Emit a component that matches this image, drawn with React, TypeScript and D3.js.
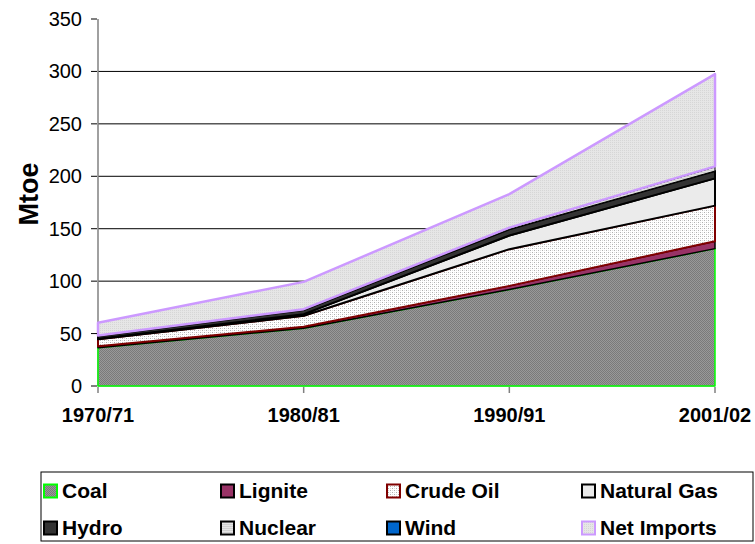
import React from "react";
import * as d3 from "d3";

const categories = ["1970/71", "1980/81", "1990/91", "2001/02"];
const seriesNames = ["Coal", "Lignite", "Crude Oil", "Natural Gas", "Hydro", "Nuclear", "Wind", "Net Imports"];
const coal = [36.5, 55, 92, 131];
const lignite = [1.5, 1.5, 3.5, 7];
const crudeOil = [6.5, 10.5, 35, 34];
const naturalGas = [0.5, 1.5, 13, 26];
const hydro = [2.5, 4, 6, 7];
const nuclear = [0.6, 0.8, 1.5, 4];
const wind = [0, 0, 0, 0.5];
const netImports = [12.3, 26, 32, 88];
const yTicks = [0, 50, 100, 150, 200, 250, 300, 350];

const seriesValues = [coal, lignite, crudeOil, naturalGas, hydro, nuclear, wind, netImports];

const styles = [
  { fill: "url(#pCoal)", stroke: "#00ff00", sw: 1.5 },
  { fill: "#993366", stroke: "#000000", sw: 1.5 },
  { fill: "url(#pCrude)", stroke: "#800000", sw: 2 },
  { fill: "#ebebeb", stroke: "#000000", sw: 2 },
  { fill: "#333333", stroke: "#000000", sw: 2 },
  { fill: "url(#pNuclear)", stroke: "#000000", sw: 1 },
  { fill: "#0066cc", stroke: "#000000", sw: 1 },
  { fill: "url(#pImports)", stroke: "#cc99ff", sw: 2.5 },
];

export default function App() {
  const W = 755, H = 544;
  const x = d3.scalePoint<string>().domain(categories).range([98, 715]);
  const y = d3.scaleLinear().domain([0, 350]).range([386, 19]);

  const table = categories.map((c, i) => {
    const row: any = { cat: c };
    seriesNames.forEach((s, k) => (row[s] = seriesValues[k][i]));
    return row;
  });
  const stacked = d3.stack<any>().keys(seriesNames)(table);
  const area = d3
    .area<any>()
    .x((d) => x(d.data.cat) as number)
    .y0((d) => y(d[0]))
    .y1((d) => y(d[1]));

  const font = "Arial, 'Liberation Sans', sans-serif";
  const legendCols = [44, 221, 387, 582];
  const legendRows = [491, 528];

  return (
    <svg width={W} height={H} style={{ position: "absolute", left: 0, top: 0, background: "#fff" }}>
      <defs>
        <pattern id="pCoal" width="2" height="2" patternUnits="userSpaceOnUse">
          <rect width="2" height="2" fill="#999999" />
          <rect width="1" height="1" fill="#7a7a7a" />
          <rect x="1" y="1" width="1" height="1" fill="#7a7a7a" />
        </pattern>
        <pattern id="pCrude" width="4" height="4" patternUnits="userSpaceOnUse">
          <rect width="4" height="4" fill="#ffffff" />
          <rect width="1" height="1" fill="#b0b0b0" />
          <rect x="2" y="2" width="1" height="1" fill="#b0b0b0" />
          <rect x="2" y="0" width="1" height="1" fill="#dddddd" />
          <rect x="0" y="2" width="1" height="1" fill="#dddddd" />
        </pattern>
        <pattern id="pNuclear" width="2" height="2" patternUnits="userSpaceOnUse">
          <rect width="2" height="2" fill="#e4e4e4" />
          <rect width="2" height="1" fill="#cfcfcf" />
        </pattern>
        <pattern id="pImports" width="2" height="2" patternUnits="userSpaceOnUse">
          <rect width="2" height="2" fill="#e6e6e6" />
          <rect width="1" height="1" fill="#d6d6d6" />
        </pattern>
      </defs>

      {/* gridlines */}
      {yTicks.filter((t) => t > 0 && t < 350).map((t) => (
        <line key={"g" + t} x1={98} x2={715} y1={y(t)} y2={y(t)} stroke="#000" strokeWidth={1} />
      ))}

      {/* axis lines (under the areas) */}
      <line x1={98} x2={98} y1={y(350)} y2={y(0)} stroke="#808080" strokeWidth={1.5} />
      <line x1={98} x2={715} y1={y(0)} y2={y(0)} stroke="#808080" strokeWidth={1} />

      {/* areas */}
      {stacked.map((s, k) => (
        <path
          key={s.key}
          d={area(s) as string}
          fill={styles[k].fill}
          stroke={styles[k].stroke}
          strokeWidth={styles[k].sw}
          strokeLinejoin="round"
        />
      ))}

      {/* y ticks */}
      {yTicks.map((t) => (
        <g key={"t" + t}>
          <line x1={91} x2={97} y1={y(t)} y2={y(t)} stroke="#000" strokeWidth={1} />
          <text x={82} y={y(t)} dy="0.35em" textAnchor="end" fontFamily={font} fontSize={20} fill="#000">
            {t}
          </text>
        </g>
      ))}
      {/* x ticks */}
      {categories.map((c) => (
        <g key={"x" + c}>
          <line x1={x(c) as number} x2={x(c) as number} y1={y(0) + 1} y2={y(0) + 7} stroke="#808080" strokeWidth={1.5} />
          <text x={x(c) as number} y={422} textAnchor="middle" fontFamily={font} fontSize={20} fontWeight="bold" fill="#000">
            {c}
          </text>
        </g>
      ))}
      <text
        transform={`translate(38,194) rotate(-90)`}
        textAnchor="middle"
        fontFamily={font}
        fontSize={27}
        fontWeight="bold"
        fill="#000"
      >
        Mtoe
      </text>

      {/* legend */}
      <rect x={41} y={472} width={712} height={69} fill="#fff" stroke="#000" strokeWidth={1} />
      {seriesNames.map((s, k) => {
        const col = k % 4;
        const row = Math.floor(k / 4);
        const lx = legendCols[col];
        const ly = legendRows[row];
        return (
          <g key={"l" + s}>
            <rect
              x={lx}
              y={ly - 6.5}
              width={13}
              height={13}
              fill={styles[k].fill}
              stroke={k === 7 ? "#cc99ff" : styles[k].stroke}
              strokeWidth={2}
            />
            <text x={lx + 18} y={ly} dy="0.35em" fontFamily={font} fontSize={21} fontWeight="bold" fill="#000">
              {s}
            </text>
          </g>
        );
      })}
    </svg>
  );
}
